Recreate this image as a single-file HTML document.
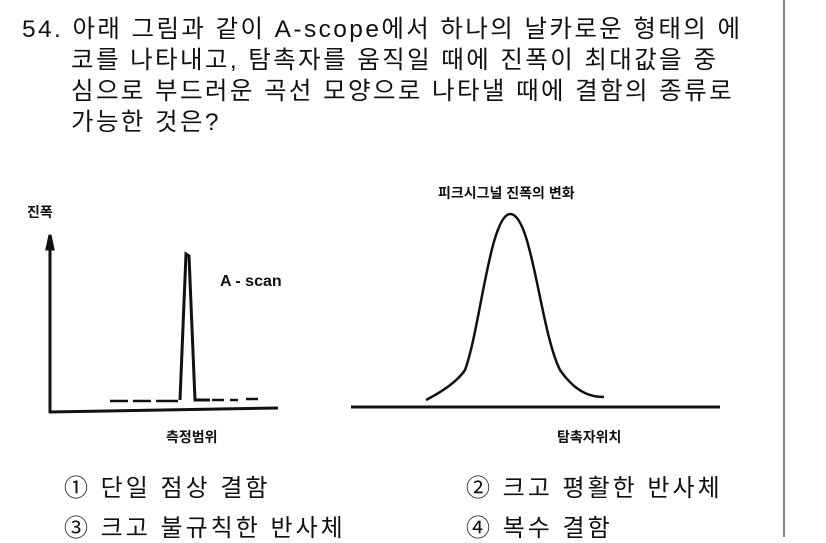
<!DOCTYPE html>
<html><head><meta charset="utf-8"><style>
body{margin:0;background:#fff;width:826px;height:541px;overflow:hidden;position:relative;font-family:"Liberation Sans","Noto Sans CJK KR",sans-serif;color:#111}
.q{position:absolute;left:22px;top:14px;font-size:24.5px;line-height:31px;white-space:nowrap;letter-spacing:2.4px}
.o{position:absolute;font-size:24px;white-space:nowrap;letter-spacing:3px}
</style></head><body>
<div class="q">54. 아래 그림과 같이 A-scope에서 하나의 날카로운 형태의 에<br><span style="padding-left:49px">코를 나타내고, 탐촉자를 움직일 때에 진폭이 최대값을 중</span><br><span style="padding-left:49px">심으로 부드러운 곡선 모양으로 나타낼 때에 결함의 종류로</span><br><span style="padding-left:49px">가능한 것은?</span></div>
<svg width="826" height="541" style="position:absolute;left:0;top:0">
<line x1="784" y1="0" x2="784" y2="537" stroke="#555" stroke-width="1.5"/>
<g stroke="#111" stroke-width="3" fill="none">
<line x1="50" y1="240" x2="50" y2="413"/>
<line x1="49" y1="412" x2="278" y2="408"/>
<path d="M50 235 l-3 14 h6z" fill="#111"/>
<path d="M180 400 L186 254 L189 256 L195 400 L210 400"/>
<path d="M110 401 h18 M133 401 h18 M156 401 h22 M212 400 h12 M230 400 h8 M246 399 h12" stroke-width="2.5"/>
<line x1="351" y1="407" x2="720" y2="407"/>
<path d="M426 400 Q455 385 465 370 C480 330 490 215 510 214 C532 213 540 330 560 370 C578 396 595 397 604 397" stroke-width="2.5"/>
</g>
<g font-family="Liberation Sans,Noto Sans CJK KR,sans-serif" font-weight="bold" font-size="14" fill="#111">
<text x="27" y="217">진폭</text>
<text x="220" y="286" font-size="16">A - scan</text>
<text x="166" y="442">측정범위</text>
<text x="438" y="198">피크시그널 진폭의 변화</text>
<text x="557" y="442">탐촉자위치</text>
</g>
</svg>
<div class="o" style="left:64px;top:468px">① 단일 점상 결함</div>
<div class="o" style="left:466px;top:468px">② 크고 평활한 반사체</div>
<div class="o" style="left:64px;top:508px">③ 크고 불규칙한 반사체</div>
<div class="o" style="left:466px;top:508px">④ 복수 결함</div>
</body></html>
